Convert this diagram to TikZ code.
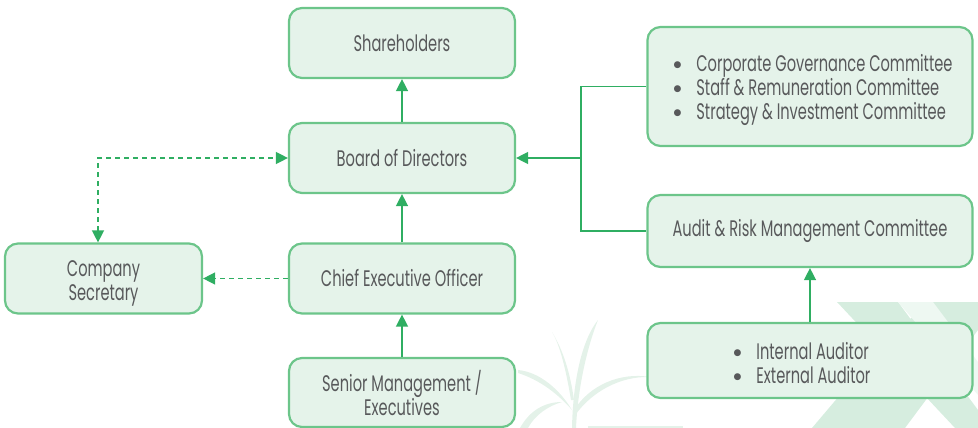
\documentclass[tikz,border=0pt]{standalone}
\usepackage{fontspec}
\setmainfont{Poppins}[FakeStretch=0.65]
\newfontfamily\symfont{DejaVu Sans}
\usetikzlibrary{arrows.meta}
\definecolor{boxline}{HTML}{6CC58A}
\definecolor{boxfill}{HTML}{E5F3EA}
\definecolor{link}{HTML}{2FAE62}
\definecolor{txt}{HTML}{58595B}
\definecolor{decoA}{HTML}{D6EDDF}
\definecolor{decoB}{HTML}{EEF8F2}
\definecolor{leaf}{HTML}{E4F2E9}
\tikzset{
  orgbox/.style={draw=boxline, fill=boxfill, line width=2.2pt, rounded corners=13pt,
    text=txt, align=center, inner sep=0pt,
    font=\fontsize{22.5}{24}\selectfont},
  solidlink/.style={draw=link, line width=1.4pt},
  arrowlink/.style={solidlink, -{Triangle[length=12pt,width=12pt]}},
  dashlink/.style={draw=link, line width=1.4pt, dash pattern=on 5pt off 4pt},
}
% centred lines, shifted by (#1,#2) without changing the box size
\newcommand{\shiftlines}[3]{\hspace*{#1}\raisebox{#2}[\height][\depth]{\begin{tabular}{@{}c@{}}#3\end{tabular}}}
% bulleted rows set as a small table, shifted by (#1,#2)
\newcommand{\bulletrows}[3]{\hspace*{#1}\raisebox{#2}[\height][\depth]{\begin{tabular}{@{}c@{\hspace{15pt}}l@{}}#3\end{tabular}}}
\newcommand{\blt}{\raisebox{4pt}{\symfont\fontsize{9}{10}\selectfont ●}}
\begin{document}
\begin{tikzpicture}[x=1pt, y=-1pt]
\useasboundingbox (0,0) rectangle (978,428);

% faint background ornaments
\fill[decoA] (837,302) -- (898,302) -- (978,410) -- (978,428) -- (955,428) -- cycle;
\fill[decoA] (933,302) -- (978,302) -- (978,330) -- (905,428) -- (812,428) -- (895,330) -- cycle;
\fill[decoB] (898,302) -- (933,302) -- (978,362) -- (978,395) -- cycle;
\fill[leaf] (572,428) .. controls (573,380) and (582,340) .. (598,320)
  .. controls (588,345) and (578,385) .. (576,428) -- cycle;
\fill[leaf] (571,400) .. controls (566,370) and (560,345) .. (552,332)
  .. controls (563,350) and (570,372) .. (574,400) -- cycle;
\fill[leaf] (574,410) .. controls (590,385) and (620,372) .. (650,377)
  .. controls (620,376) and (592,392) .. (576,414) -- cycle;
\fill[leaf] (518,370) .. controls (540,372) and (560,390) .. (572,410)
  .. controls (558,394) and (540,380) .. (518,373) -- cycle;
\fill[leaf] (520,428) .. controls (530,410) and (545,402) .. (562,402)
  .. controls (548,406) and (535,415) .. (528,428) -- cycle;
\fill[leaf] (588,426) rectangle (683,428);

% boxes
\node[orgbox, minimum width=226pt, minimum height=70pt] (sh) at (402,43) {Shareholders};
\node[orgbox, minimum width=226pt, minimum height=70pt] (bd) at (402,158) {Board of Directors};
\node[orgbox, minimum width=226pt, minimum height=70pt] (ceo) at (402,278.5) {Chief Executive Officer};
\node[orgbox, minimum width=226pt, minimum height=69pt] (sm) at (402,392.5) {\shiftlines{0pt}{-4pt}{Senior Management /\\Executives}};
\node[orgbox, minimum width=197pt, minimum height=70pt] (cs) at (103.5,278.5) {\shiftlines{0pt}{-5pt}{Company\\Secretary}};
\node[orgbox, minimum width=325pt, minimum height=119pt] (cm) at (810,86.5)
  {\bulletrows{6pt}{-4pt}{\blt & Corporate Governance Committee\\
               \blt & Staff \& Remuneration Committee\\
               \blt & Strategy \& Investment Committee}};
\node[orgbox, minimum width=325pt, minimum height=72pt] (au) at (810,231) {Audit \& Risk Management Committee};
\node[orgbox, minimum width=325pt, minimum height=75pt] (ad) at (810,360.5)
  {\bulletrows{-16pt}{-6pt}{\blt & Internal Auditor\\
               \blt & External Auditor}};

% reporting lines
\draw[arrowlink] (bd) -- (sh);
\draw[arrowlink] (ceo) -- (bd);
\draw[arrowlink] (sm) -- (ceo);
\draw[arrowlink] (ad) -- (au);

\coordinate (jn) at (581,158);
\draw[solidlink, line width=1.1pt] (cm.west) -| (jn) |- (au.west);
\draw[arrowlink] (jn) -- (bd.east);

\coordinate (sk) at (98,158);
\draw[dashlink, {Triangle[length=12pt,width=12pt]}-{Triangle[length=12pt,width=12pt]}]
  (sk |- cs.north) -- (sk) -- (bd.west);
\draw[dashlink, -{Triangle[length=12pt,width=12pt]}] (ceo.west) -- (cs.east);
\end{tikzpicture}
\end{document}
